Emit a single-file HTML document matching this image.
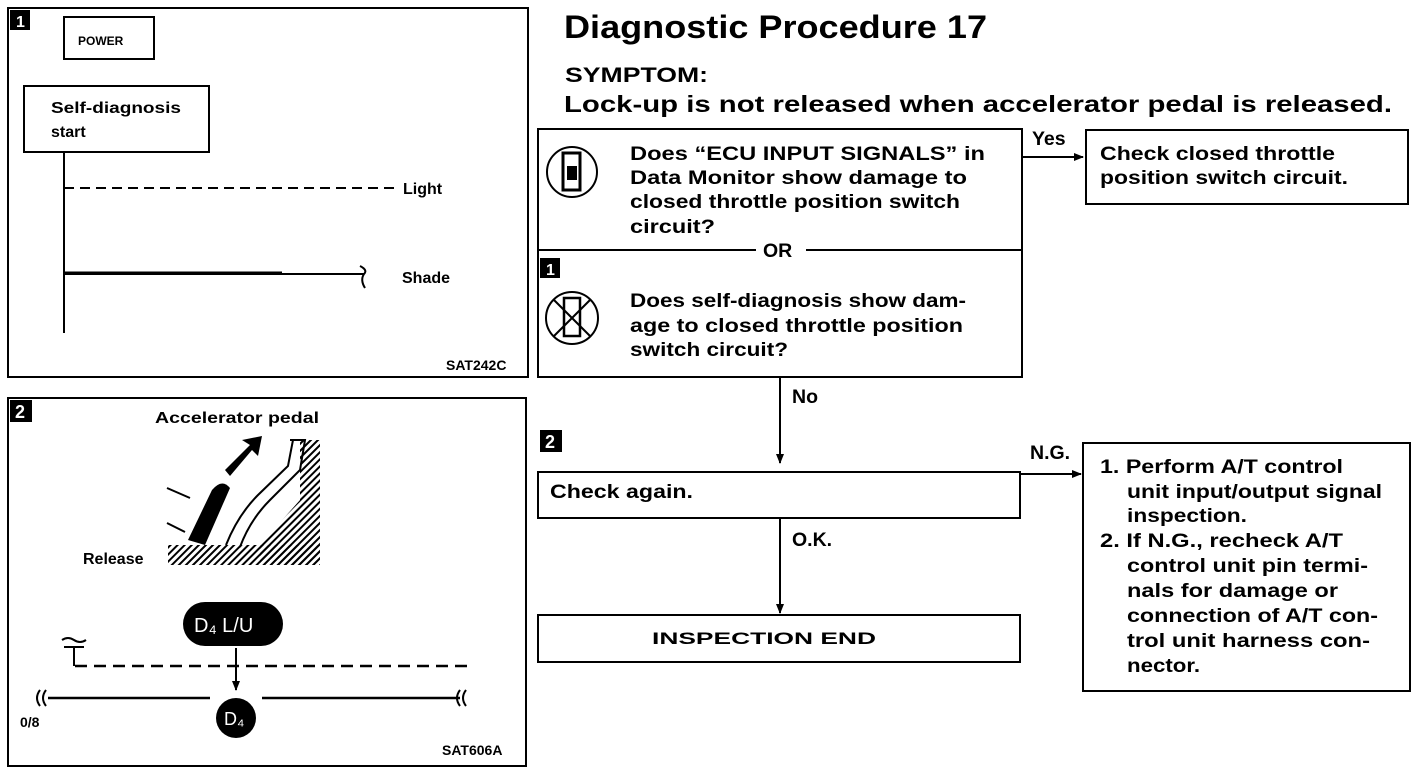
<!DOCTYPE html>
<html><head><meta charset="utf-8"><style>
html,body{margin:0;padding:0;background:#fff;}
svg{display:block;}
text{font-family:"Liberation Sans",Arial,sans-serif;font-weight:bold;fill:#000;}
</style></head><body>
<svg width="1424" height="774" viewBox="0 0 1424 774" xmlns="http://www.w3.org/2000/svg">
<defs>
<pattern id="h" width="5" height="5" patternUnits="userSpaceOnUse" patternTransform="rotate(45)">
<rect width="2" height="5" fill="#000"/></pattern>
<marker id="a" markerWidth="10" markerHeight="8" refX="9" refY="4" orient="auto" markerUnits="userSpaceOnUse">
<path d="M0,0 L10,4 L0,8 Z" fill="#000"/></marker>
</defs>
<g fill="none" stroke="#000" stroke-width="2">
<rect x="8" y="8" width="520" height="369"/>
<rect x="64" y="17" width="90" height="42"/>
<rect x="24" y="86" width="185" height="66"/>
<line x1="64" y1="152" x2="64" y2="333"/>
<line x1="64" y1="188" x2="398" y2="188" stroke-dasharray="10,6"/>
<line x1="64" y1="274" x2="364" y2="274"/>
<line x1="64" y1="273" x2="282" y2="273" stroke-width="3"/>
<path d="M360,266 Q368,270 364,274 Q360,280 365,288"/>
<rect x="8" y="398" width="518" height="368"/>
<line x1="75" y1="666" x2="472" y2="666" stroke-dasharray="12,7" stroke-width="2.5"/>
<path d="M74,666 L74,648 M62,640 Q68,636 74,640 Q80,644 86,640 M64,647 L84,647"/>
<line x1="48" y1="698" x2="210" y2="698" stroke-width="2.5"/>
<line x1="262" y1="698" x2="460" y2="698" stroke-width="2.5"/>
<path d="M40,690 Q34,698 40,706 M46,690 Q40,698 46,706"/>
<path d="M460,690 Q454,698 460,706 M466,690 Q460,698 466,706"/>
<line x1="236" y1="648" x2="236" y2="690" marker-end="url(#a)"/>
<path d="M167,488 L190,498 M167,523 L185,532"/>
<path d="M240,547 Q250,520 270,500 L300,470 L305,440 L290,440"/>
<path d="M226,545 Q238,515 258,495 L288,466 L293,440"/>
<rect x="538" y="129" width="484" height="248"/>
<line x1="538" y1="250" x2="756" y2="250"/>
<line x1="806" y1="250" x2="1022" y2="250"/>
<line x1="1022" y1="157" x2="1083" y2="157" marker-end="url(#a)"/>
<rect x="1086" y="130" width="322" height="74"/>
<line x1="780" y1="377" x2="780" y2="463" marker-end="url(#a)"/>
<rect x="538" y="472" width="482" height="46"/>
<line x1="1020" y1="474" x2="1081" y2="474" marker-end="url(#a)"/>
<rect x="1083" y="443" width="327" height="248"/>
<line x1="780" y1="518" x2="780" y2="613" marker-end="url(#a)"/>
<rect x="538" y="615" width="482" height="47"/>
<circle cx="572" cy="172" r="25"/>
<rect x="563" y="153" width="17" height="37" stroke-width="3"/>
<circle cx="572" cy="318" r="26"/>
<rect x="564" y="298" width="16" height="38" stroke-width="2.5"/>
<line x1="554" y1="300" x2="590" y2="336"/>
<line x1="590" y1="300" x2="554" y2="336"/>
</g>
<rect x="168" y="545" width="152" height="20" fill="url(#h)"/>
<polygon points="300,440 320,440 320,565 260,565 260,545 300,500" fill="url(#h)"/>
<path d="M188,540 L212,490 Q222,478 230,488 L205,545 Z" fill="#000"/>
<path d="M225,470 L250,445 L242,440 L262,436 L258,456 L252,450 L230,476 Z" fill="#000"/>
<rect x="567" y="166" width="10" height="14" fill="#000"/>
<rect x="10" y="10" width="20" height="20" fill="#000"/>
<rect x="10" y="400" width="22" height="22" fill="#000"/>
<rect x="540" y="258" width="20" height="20" fill="#000"/>
<rect x="540" y="430" width="22" height="22" fill="#000"/>
<rect x="183" y="602" width="100" height="44" rx="22" fill="#000"/>
<circle cx="236" cy="718" r="20" fill="#000"/>
<text x="16" y="27" font-size="16" style="fill:#fff">1</text>
<text x="15" y="418" font-size="18" style="fill:#fff">2</text>
<text x="546" y="275" font-size="16" style="fill:#fff">1</text>
<text x="545" y="448" font-size="18" style="fill:#fff">2</text>
<text x="194" y="632" font-size="20" style="fill:#fff;font-weight:normal">D₄  L/U</text>
<text x="224" y="725" font-size="18" style="fill:#fff;font-weight:normal">D₄</text>
<text x="78" y="45" font-size="12">POWER</text>
<text x="51" y="113" font-size="16" textLength="130" lengthAdjust="spacingAndGlyphs">Self-diagnosis</text>
<text x="51" y="137" font-size="16">start</text>
<text x="403" y="194" font-size="16">Light</text>
<text x="402" y="283" font-size="16">Shade</text>
<text x="446" y="370" font-size="14">SAT242C</text>
<text x="155" y="423" font-size="16" textLength="164" lengthAdjust="spacingAndGlyphs">Accelerator  pedal</text>
<text x="83" y="564" font-size="16">Release</text>
<text x="20" y="727" font-size="14">0/8</text>
<text x="442" y="755" font-size="14">SAT606A</text>
<text x="564" y="38" font-size="32" textLength="423" lengthAdjust="spacingAndGlyphs">Diagnostic Procedure 17</text>
<text x="565" y="82" font-size="21" textLength="143" lengthAdjust="spacingAndGlyphs">SYMPTOM:</text>
<text x="564" y="112" font-size="23" textLength="828" lengthAdjust="spacingAndGlyphs">Lock-up is not released when accelerator pedal is released.</text>
<g font-size="19.5">
<text x="630" y="160" textLength="355" lengthAdjust="spacingAndGlyphs">Does “ECU INPUT SIGNALS” in</text>
<text x="630" y="184" textLength="337" lengthAdjust="spacingAndGlyphs">Data Monitor show damage to</text>
<text x="630" y="208" textLength="330" lengthAdjust="spacingAndGlyphs">closed throttle position switch</text>
<text x="630" y="233" textLength="85" lengthAdjust="spacingAndGlyphs">circuit?</text>
<text x="763" y="257">OR</text>
<text x="630" y="307" textLength="336" lengthAdjust="spacingAndGlyphs">Does self-diagnosis show dam-</text>
<text x="630" y="332" textLength="333" lengthAdjust="spacingAndGlyphs">age to closed throttle position</text>
<text x="630" y="356" textLength="158" lengthAdjust="spacingAndGlyphs">switch circuit?</text>
<text x="1032" y="145">Yes</text>
<text x="1100" y="160" textLength="235" lengthAdjust="spacingAndGlyphs">Check closed throttle</text>
<text x="1100" y="184" textLength="248" lengthAdjust="spacingAndGlyphs">position switch circuit.</text>
<text x="792" y="403">No</text>
<text x="550" y="498" textLength="143" lengthAdjust="spacingAndGlyphs">Check again.</text>
<text x="1030" y="459">N.G.</text>
<text x="792" y="546">O.K.</text>
<text x="652" y="644" font-size="17" textLength="224" lengthAdjust="spacingAndGlyphs">INSPECTION END</text>
<text x="1100" y="473" textLength="243" lengthAdjust="spacingAndGlyphs">1. Perform A/T control</text>
<text x="1127" y="498" textLength="255" lengthAdjust="spacingAndGlyphs">unit input/output signal</text>
<text x="1127" y="522" textLength="120" lengthAdjust="spacingAndGlyphs">inspection.</text>
<text x="1100" y="547" textLength="243" lengthAdjust="spacingAndGlyphs">2. If N.G., recheck A/T</text>
<text x="1127" y="572" textLength="241" lengthAdjust="spacingAndGlyphs">control unit pin termi-</text>
<text x="1127" y="597" textLength="211" lengthAdjust="spacingAndGlyphs">nals for damage or</text>
<text x="1127" y="622" textLength="251" lengthAdjust="spacingAndGlyphs">connection of A/T con-</text>
<text x="1127" y="647" textLength="243" lengthAdjust="spacingAndGlyphs">trol unit harness con-</text>
<text x="1127" y="672" textLength="73" lengthAdjust="spacingAndGlyphs">nector.</text>
</g>
</svg>
</body></html>
